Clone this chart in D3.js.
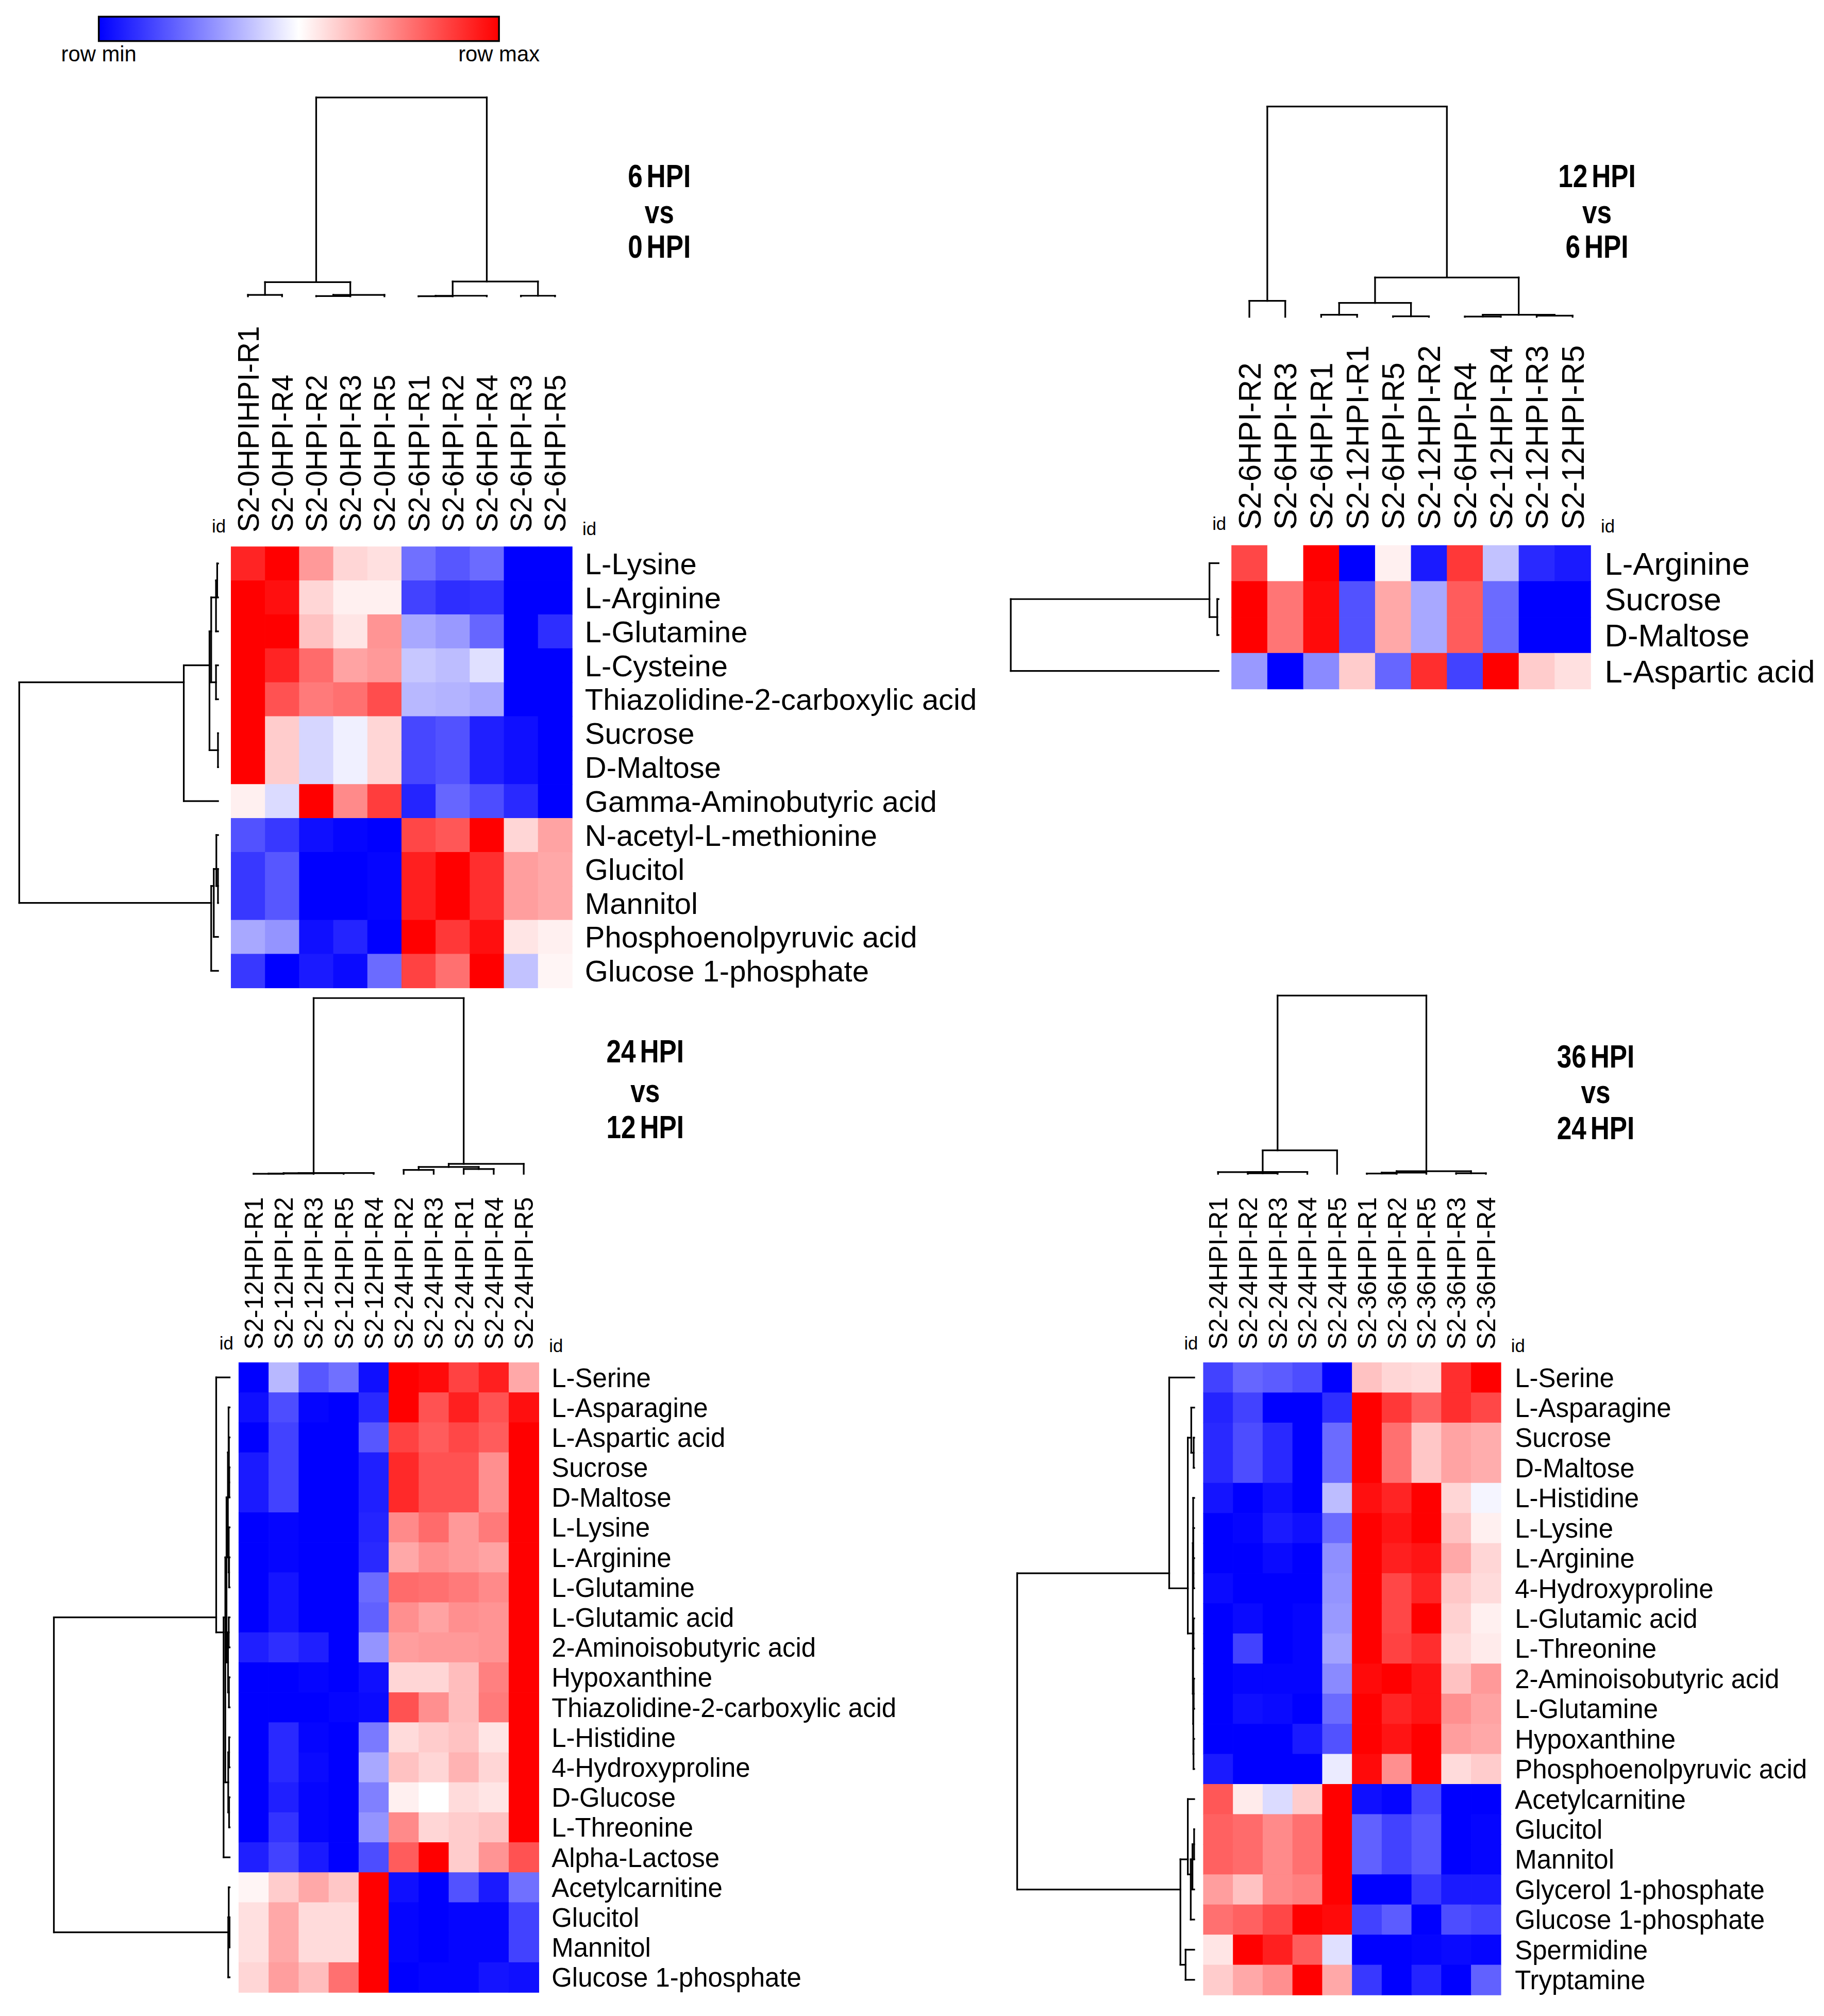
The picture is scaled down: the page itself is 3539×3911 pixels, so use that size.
<!DOCTYPE html>
<html>
<head>
<meta charset="utf-8">
<script src="https://cdn.jsdelivr.net/npm/d3@7"></script>
<style>
  body { margin: 0; background: #fff; }
  text { font-family: "Liberation Sans", Arial, sans-serif; fill: #000; }
  .title { font-weight: bold; }
</style>
</head>
<body>
<script>
// ---- data: 6 HPI vs 0 HPI ----
var cols6v0 = ["S2-0HPIHPI-R1","S2-0HPI-R4","S2-0HPI-R2","S2-0HPI-R3","S2-0HPI-R5",
               "S2-6HPI-R1","S2-6HPI-R2","S2-6HPI-R4","S2-6HPI-R3","S2-6HPI-R5"];
var rows6v0 = ["L-Lysine","L-Arginine","L-Glutamine","L-Cysteine","Thiazolidine-2-carboxylic acid",
               "Sucrose","D-Maltose","Gamma-Aminobutyric acid","N-acetyl-L-methionine","Glucitol",
               "Mannitol","Phosphoenolpyruvic acid","Glucose 1-phosphate"];
var vals6v0 = [
  [0.93,1.00,0.70,0.58,0.56,0.22,0.17,0.21,0.00,0.00],
  [1.00,0.97,0.58,0.53,0.53,0.13,0.09,0.10,0.00,0.00],
  [1.00,1.00,0.62,0.55,0.71,0.33,0.30,0.20,0.00,0.09],
  [1.00,0.93,0.79,0.68,0.70,0.39,0.37,0.44,0.00,0.00],
  [1.00,0.84,0.76,0.78,0.85,0.36,0.35,0.33,0.00,0.00],
  [1.00,0.60,0.42,0.47,0.58,0.14,0.16,0.06,0.03,0.00],
  [1.00,0.60,0.42,0.47,0.58,0.14,0.16,0.06,0.03,0.00],
  [0.53,0.43,1.00,0.73,0.88,0.07,0.20,0.15,0.08,0.00],
  [0.16,0.11,0.03,0.01,0.00,0.86,0.83,1.00,0.58,0.68],
  [0.11,0.17,0.00,0.00,0.01,0.94,1.00,0.91,0.69,0.67],
  [0.11,0.17,0.00,0.00,0.01,0.94,1.00,0.91,0.69,0.67],
  [0.33,0.29,0.03,0.07,0.00,1.00,0.89,0.97,0.55,0.53],
  [0.11,0.00,0.05,0.02,0.21,0.87,0.78,1.00,0.38,0.52]
];
var colTree6v0 = [670, [48, [5, 0, 1], [5, [1, 2, 3], 4]], [50, [2, [0.5, 5, 6], 7], [2, 8, 9]]];
var rowTree6v0 = [1160, [200, [50, [40, [12, [5, 0, 1], 2], [12, 3, 4]], [0.5, 5, 6]], 7],
                        [40, [25, [10, 8, [0.5, 9, 10]], 11], 12]];

// ---- data: 12 HPI vs 6 HPI ----
var cols12v6 = ["S2-6HPI-R2","S2-6HPI-R3","S2-6HPI-R1","S2-12HPI-R1","S2-6HPI-R5",
                "S2-12HPI-R2","S2-6HPI-R4","S2-12HPI-R4","S2-12HPI-R3","S2-12HPI-R5"];
var rows12v6 = ["L-Arginine","Sucrose","D-Maltose","L-Aspartic acid"];
var vals12v6 = [
  [0.86,0.50,1.00,0.00,0.53,0.05,0.89,0.38,0.08,0.05],
  [1.00,0.77,0.98,0.16,0.67,0.33,0.82,0.21,0.00,0.00],
  [1.00,0.77,0.98,0.16,0.67,0.33,0.82,0.21,0.00,0.00],
  [0.30,0.00,0.27,0.60,0.20,0.91,0.13,1.00,0.60,0.56]
];
var colTree12v6 = [710, [54, 0, 1], [133, [47, [7, 2, 3], [2, 4, 5]], [7, [1, 6, 7], [4, 8, 9]]]];
var rowTree12v6 = [160, [7, 0, [1, 1, 2]], 3];

// ---- data: 24 HPI vs 12 HPI ----
var cols24v12 = ["S2-12HPI-R1","S2-12HPI-R2","S2-12HPI-R3","S2-12HPI-R5","S2-12HPI-R4",
                 "S2-24HPI-R2","S2-24HPI-R3","S2-24HPI-R1","S2-24HPI-R4","S2-24HPI-R5"];
var rows24v12 = ["L-Serine","L-Asparagine","L-Aspartic acid","Sucrose","D-Maltose","L-Lysine",
                 "L-Arginine","L-Glutamine","L-Glutamic acid","2-Aminoisobutyric acid","Hypoxanthine",
                 "Thiazolidine-2-carboxylic acid","L-Histidine","4-Hydroxyproline","D-Glucose",
                 "L-Threonine","Alpha-Lactose","Acetylcarnitine","Glucitol","Mannitol","Glucose 1-phosphate"];
var vals24v12 = [
  [0.00,0.36,0.17,0.22,0.03,1.00,0.98,0.87,0.94,0.67],
  [0.03,0.15,0.01,0.00,0.08,1.00,0.84,0.94,0.84,0.97],
  [0.00,0.13,0.00,0.00,0.17,0.87,0.82,0.86,0.82,1.00],
  [0.05,0.13,0.00,0.00,0.06,0.92,0.84,0.84,0.72,1.00],
  [0.05,0.13,0.00,0.00,0.06,0.92,0.84,0.84,0.72,1.00],
  [0.00,0.01,0.00,0.00,0.07,0.73,0.79,0.70,0.76,1.00],
  [0.00,0.01,0.00,0.00,0.08,0.67,0.72,0.70,0.68,1.00],
  [0.00,0.04,0.00,0.00,0.21,0.79,0.78,0.76,0.73,1.00],
  [0.00,0.04,0.00,0.00,0.19,0.72,0.68,0.72,0.71,1.00],
  [0.06,0.09,0.06,0.00,0.29,0.69,0.70,0.70,0.71,1.00],
  [0.00,0.00,0.01,0.00,0.03,0.58,0.58,0.63,0.75,1.00],
  [0.00,0.00,0.00,0.01,0.02,0.84,0.72,0.63,0.76,1.00],
  [0.00,0.08,0.01,0.00,0.24,0.57,0.60,0.62,0.55,1.00],
  [0.00,0.08,0.02,0.00,0.33,0.62,0.58,0.65,0.58,1.00],
  [0.00,0.06,0.01,0.00,0.25,0.53,0.50,0.57,0.55,1.00],
  [0.00,0.10,0.01,0.00,0.29,0.73,0.58,0.60,0.62,1.00],
  [0.06,0.13,0.05,0.00,0.15,0.82,1.00,0.60,0.71,0.84],
  [0.52,0.60,0.67,0.61,1.00,0.03,0.00,0.16,0.05,0.22],
  [0.56,0.67,0.57,0.57,1.00,0.01,0.00,0.01,0.01,0.13],
  [0.56,0.67,0.57,0.57,1.00,0.01,0.00,0.01,0.01,0.13],
  [0.58,0.69,0.63,0.78,1.00,0.00,0.01,0.01,0.04,0.03]
];
var colTree24v12 = [1023, [5, [4, [2, [0.5, 0, 1], 2], 3], 4], [58, [40, [23, 5, 6], [28, 7, 8]], 9]];
var rowTree24v12 = [1023,
  [78, 0, [35, [25, [18, [10, [6, 1, [4, 2, [2, 3, 4]]], [5, 5, [3, 6, 7]]],
                         [9, [5, 8, 9], [4, 10, 11]]],
                    [8, [3, 12, 13], [3, 14, 15]]], 16]],
  [8, [5, 17, [0.3, 18, 19]], 20]];

// ---- data: 36 HPI vs 24 HPI ----
var cols36v24 = ["S2-24HPI-R1","S2-24HPI-R2","S2-24HPI-R3","S2-24HPI-R4","S2-24HPI-R5",
                 "S2-36HPI-R1","S2-36HPI-R2","S2-36HPI-R5","S2-36HPI-R3","S2-36HPI-R4"];
var rows36v24 = ["L-Serine","L-Asparagine","Sucrose","D-Maltose","L-Histidine","L-Lysine","L-Arginine",
                 "4-Hydroxyproline","L-Glutamic acid","L-Threonine","2-Aminoisobutyric acid","L-Glutamine",
                 "Hypoxanthine","Phosphoenolpyruvic acid","Acetylcarnitine","Glucitol","Mannitol",
                 "Glycerol 1-phosphate","Glucose 1-phosphate","Spermidine","Tryptamine"];
var vals36v24 = [
  [0.13,0.20,0.18,0.15,0.00,0.62,0.58,0.57,0.91,1.00],
  [0.07,0.13,0.00,0.00,0.09,1.00,0.89,0.81,0.91,0.86],
  [0.08,0.15,0.08,0.00,0.21,1.00,0.78,0.61,0.68,0.66],
  [0.08,0.15,0.08,0.00,0.21,1.00,0.78,0.61,0.68,0.66],
  [0.04,0.00,0.03,0.00,0.37,0.97,0.93,1.00,0.58,0.48],
  [0.00,0.01,0.05,0.03,0.21,1.00,0.96,1.00,0.62,0.53],
  [0.00,0.00,0.02,0.00,0.28,1.00,0.94,0.96,0.67,0.58],
  [0.02,0.00,0.00,0.00,0.29,1.00,0.86,0.93,0.61,0.57],
  [0.00,0.02,0.00,0.01,0.30,1.00,0.86,1.00,0.59,0.53],
  [0.00,0.13,0.00,0.01,0.32,1.00,0.87,0.91,0.57,0.54],
  [0.00,0.01,0.01,0.01,0.27,0.98,1.00,0.96,0.62,0.70],
  [0.00,0.03,0.02,0.00,0.21,1.00,0.93,0.96,0.72,0.68],
  [0.00,0.00,0.00,0.05,0.16,1.00,0.96,1.00,0.69,0.67],
  [0.05,0.00,0.00,0.00,0.46,0.98,0.72,1.00,0.57,0.60],
  [0.83,0.54,0.43,0.60,1.00,0.03,0.01,0.14,0.00,0.00],
  [0.81,0.79,0.73,0.78,1.00,0.19,0.13,0.17,0.00,0.01],
  [0.81,0.79,0.73,0.78,1.00,0.19,0.13,0.17,0.00,0.01],
  [0.69,0.62,0.73,0.75,1.00,0.00,0.00,0.11,0.05,0.05],
  [0.78,0.81,0.86,1.00,0.98,0.13,0.18,0.00,0.15,0.13],
  [0.55,1.00,0.94,0.82,0.44,0.00,0.00,0.01,0.02,0.01],
  [0.60,0.67,0.72,1.00,0.67,0.11,0.00,0.07,0.00,0.19]
];
var colTree36v24 = [1027, [135, [10.5, [10, 0, [3, 1, 2]], 3], 4], [15, [7, [2, 5, 6], 7], [3, 8, 9]]];
var rowTree36v24 = [1027,
  [145, 0, [37, [17, 1, [3, 2, 3]],
                [8, [6, 4, [5, 5, [4, 6, 7]]], [6, [4, 8, 9], [5, [3, 10, 11], [4, 12, 13]]]]]],
  [80, [37, 14, [20, [10, [0.5, 15, 16], 17], 18]], [50, 19, 20]]];

// ---- drawing ----
var W = 1422, H = 3911 / (3539 / 1422);
var svg = d3.select("body").append("svg")
  .attr("width", 3539).attr("height", 3911)
  .attr("viewBox", "0 0 " + W + " " + H);

var color = d3.scaleLinear().domain([0, 0.5, 1]).range(["#0000ff", "#ffffff", "#ff0000"]);

// legend
var grad = svg.append("defs").append("linearGradient").attr("id", "lg");
grad.selectAll("stop").data(color.domain()).enter().append("stop")
  .attr("offset", function(d) { return d * 100 + "%"; })
  .attr("stop-color", function(d) { return color(d); });
svg.append("rect").attr("x", 77).attr("y", 13).attr("width", 312).attr("height", 19)
  .attr("fill", "url(#lg)").attr("stroke", "#000").attr("stroke-width", 1.4);
svg.append("text").attr("x", 77).attr("y", 48).attr("text-anchor", "middle")
  .style("font-size", "16.8px").text("row min");
svg.append("text").attr("x", 389).attr("y", 48).attr("text-anchor", "middle")
  .style("font-size", "16.8px").text("row max");

function treeLayout(tree, pos) {
  var root = d3.hierarchy(tree, function(d) { return Array.isArray(d) ? d.slice(1) : null; });
  root.each(function(n) {
    n.h = Array.isArray(n.data) ? n.data[0] : 0;
    n.p = d3.mean(n.leaves(), function(l) { return pos(l.data); });
  });
  return root;
}

// orient: "top" draws columns tree, "left" draws rows tree
function drawTree(g, root, hScale, orient) {
  var segs = [];
  root.each(function(n) {
    if (!n.children) return;
    var ps = n.children.map(function(c) { return c.p; });
    segs.push([d3.min(ps), n.h, d3.max(ps), n.h]);
    n.children.forEach(function(c) { segs.push([c.p, c.h, c.p, n.h]); });
  });
  g.selectAll("line").data(segs).enter().append("line")
    .attr("x1", function(s) { return orient === "top" ? s[0] : hScale(s[1]); })
    .attr("y1", function(s) { return orient === "top" ? hScale(s[1]) : s[0]; })
    .attr("x2", function(s) { return orient === "top" ? s[2] : hScale(s[3]); })
    .attr("y2", function(s) { return orient === "top" ? hScale(s[3]) : s[2]; })
    .attr("stroke", "#000").attr("stroke-width", 1.3).attr("stroke-linecap", "square");
}

function panel(p) {
  var g = svg.append("g");
  var x = d3.scaleBand().domain(d3.range(p.cols.length)).range([p.x0, p.x1]);
  var y = d3.scaleBand().domain(d3.range(p.rows.length)).range([p.y0, p.y1]);

  var cells = [];
  p.vals.forEach(function(r, i) { r.forEach(function(v, j) { cells.push({ r: i, c: j, v: v }); }); });
  g.append("g").selectAll("rect").data(cells).enter().append("rect")
    .attr("x", function(d) { return x(d.c); })
    .attr("y", function(d) { return y(d.r); })
    .attr("width", x.bandwidth() + 0.3)
    .attr("height", y.bandwidth() + 0.3)
    .attr("fill", function(d) { return color(d.v); });

  // row labels
  g.append("g").selectAll("text").data(p.rows).enter().append("text")
    .attr("x", p.x1 + p.rowGap)
    .attr("y", function(d, i) { return y(i) + y.bandwidth() / 2; })
    .attr("dy", "0.36em")
    .style("font-size", p.rowFont + "px")
    .text(function(d) { return d; });

  // column labels
  g.append("g").selectAll("text").data(p.cols).enter().append("text")
    .attr("transform", function(d, i) {
      return "translate(" + (x(i) + x.bandwidth() / 2) + "," + p.colBase + ") rotate(-90)";
    })
    .attr("dy", "0.36em")
    .style("font-size", p.colFont + "px")
    .text(function(d) { return d; });

  // id labels
  g.append("text").attr("x", p.x0 - 4).attr("y", p.colBase).attr("text-anchor", "end")
    .style("font-size", "14px").text("id");
  g.append("text").attr("x", p.x1 + 8).attr("y", p.colBase + 2)
    .style("font-size", "14px").text("id");

  // dendrograms
  var colRoot = treeLayout(p.colTree, function(i) { return x(i) + x.bandwidth() / 2; });
  var cy = d3.scaleLinear().domain([0, colRoot.h]).range([p.colLeaf, p.colTop]);
  drawTree(g.append("g"), colRoot, cy, "top");

  var rowRoot = treeLayout(p.rowTree, function(i) { return y(i) + y.bandwidth() / 2; });
  var rx = d3.scaleLinear().domain([0, rowRoot.h]).range([p.rowLeaf, p.rowTop]);
  drawTree(g.append("g"), rowRoot, rx, "left");

  // title (condensed bold)
  g.append("g").selectAll("text").data(p.title).enter().append("text")
    .attr("class", "title")
    .attr("transform", function(d, i) {
      return "translate(" + p.titleX + "," + p.titleY[i] + ") scale(0.86,1.04)";
    })
    .attr("text-anchor", "middle")
    .style("font-size", "24px")
    .style("word-spacing", "-3px")
    .text(function(d) { return d; });
}

panel({ cols: cols6v0, rows: rows6v0, vals: vals6v0, colTree: colTree6v0, rowTree: rowTree6v0,
  x0: 180, x1: 446, y0: 426, y1: 770, rowGap: 10, rowFont: 23.3, colFont: 22.8, colBase: 415,
  colLeaf: 231, colTop: 76, rowLeaf: 170, rowTop: 15,
  title: ["6 HPI", "vs", "0 HPI"], titleX: 514, titleY: [146, 174, 201] });

panel({ cols: cols12v6, rows: rows12v6, vals: vals12v6, colTree: colTree12v6, rowTree: rowTree12v6,
  x0: 960, x1: 1240, y0: 425, y1: 537, rowGap: 11, rowFont: 24.8, colFont: 24.2, colBase: 413,
  colLeaf: 247, colTop: 83, rowLeaf: 950, rowTop: 788,
  title: ["12 HPI", "vs", "6 HPI"], titleX: 1245, titleY: [146, 174, 201] });

panel({ cols: cols24v12, rows: rows24v12, vals: vals24v12, colTree: colTree24v12, rowTree: rowTree24v12,
  x0: 186, x1: 420, y0: 1062, y1: 1553, rowGap: 10, rowFont: 20.5, colFont: 20, colBase: 1052,
  colLeaf: 915, colTop: 778, rowLeaf: 179, rowTop: 42,
  title: ["24 HPI", "vs", "12 HPI"], titleX: 503, titleY: [828, 859, 887] });

panel({ cols: cols36v24, rows: rows36v24, vals: vals36v24, colTree: colTree36v24, rowTree: rowTree36v24,
  x0: 938, x1: 1170, y0: 1062, y1: 1555, rowGap: 11, rowFont: 20.5, colFont: 20, colBase: 1052,
  colLeaf: 915, colTop: 776, rowLeaf: 931, rowTop: 793,
  title: ["36 HPI", "vs", "24 HPI"], titleX: 1244, titleY: [832, 860, 888] });
</script>
</body>
</html>
